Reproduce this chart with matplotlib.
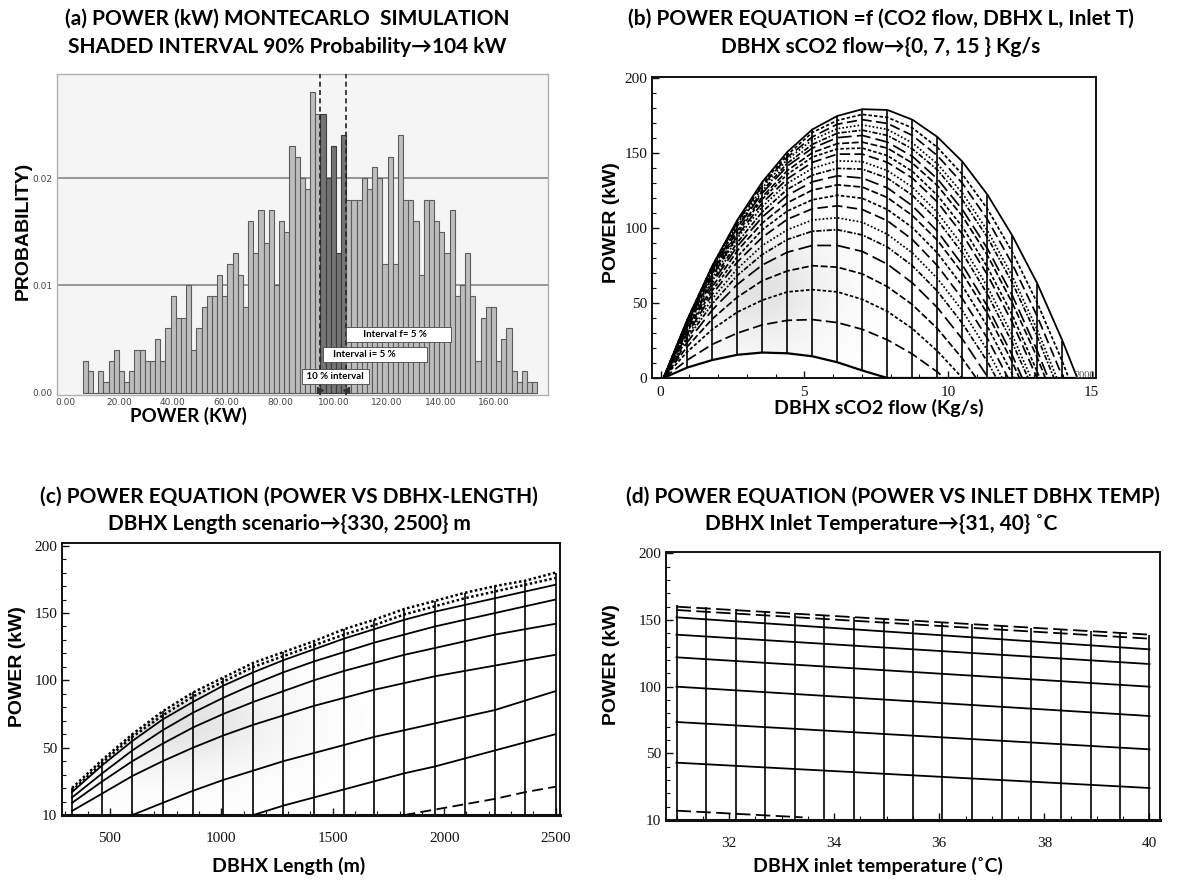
import numpy as np
import matplotlib
matplotlib.use("Agg")
import matplotlib.pyplot as plt
from matplotlib.ticker import MultipleLocator, FixedLocator, FixedFormatter

# ======================= DATA =======================
# (a) Monte Carlo histogram of power (kW)
hist_bin_start = 6.4
hist_bin_width = 1.93
prob_below = [0.003, 0.002, 0.000, 0.002, 0.001, 0.003, 0.004, 0.002, 0.001, 0.002,
              0.004, 0.004, 0.003, 0.003, 0.005, 0.003, 0.006, 0.009, 0.007, 0.007,
              0.010, 0.004, 0.006, 0.008, 0.009, 0.009, 0.011, 0.009, 0.012, 0.013,
              0.011, 0.008, 0.016, 0.013, 0.017, 0.014, 0.017, 0.010, 0.016, 0.015,
              0.023, 0.022, 0.020, 0.019, 0.028, 0.026]
prob_shaded = [0.026, 0.020, 0.023, 0.013, 0.024]
prob_above = [0.018, 0.018, 0.018, 0.020, 0.019, 0.021, 0.020, 0.012, 0.022, 0.012,
              0.024, 0.018, 0.018, 0.016, 0.011, 0.018, 0.018, 0.016, 0.015, 0.013,
              0.017, 0.009, 0.010, 0.013, 0.009, 0.003, 0.007, 0.008, 0.008, 0.003,
              0.005, 0.006, 0.002, 0.001, 0.002, 0.001, 0.001]
hist_xticks = [0, 20, 40, 60, 80, 100, 120, 140, 160]
hist_yticks = [0.00, 0.01, 0.02]

# (b) power vs sCO2 flow, one curve per DBHX length level (top = longest)
flow_grid = [0.1, 0.93, 1.8, 2.67, 3.54, 4.41, 5.28, 6.15, 7.02, 7.89, 8.76,
             9.63, 10.5, 11.37, 12.24, 13.11, 13.98, 14.5]
power_vs_flow = [
    [0, 39, 75, 105.5, 131, 151, 166, 175, 179.5, 179, 172.5, 161, 144.5, 122.5, 95, 63, 25, 0],
    [0, 39, 75, 105, 130, 149, 164, 172, 176, 174, 167, 154, 136, 113, 84, 50, 11, -15],
    [0, 38.7, 74, 104, 128.5, 147.5, 161, 169.5, 172.5, 170, 162, 148.5, 130, 106, 76, 41, 1, -26],
    [0, 38.5, 73.5, 103, 127, 146, 159, 166.5, 169, 166, 157, 143, 123.5, 98.5, 68, 32, -9, 0],
    [0, 38, 72.5, 101.5, 125, 143.5, 156, 163.5, 165.5, 162, 153, 139, 119, 94, 63.5, 27.5, -14, 0],
    [0, 37.5, 72, 100.5, 123.5, 141.5, 153.5, 160.5, 162, 157.5, 148, 133, 112.5, 86.5, 55, 18, -24, 0],
    [0, 37, 70.5, 98.5, 121, 138.5, 150.5, 156.5, 157.5, 153.5, 143.5, 128.5, 108, 82, 50, 13.5, -29, 0],
    [0, 36.5, 69.5, 97, 119.5, 136, 147.5, 153, 153.5, 148.5, 138, 122, 101, 74, 42, 4, -39, 0],
    [0, 36, 68, 95, 117, 133, 144, 149.5, 149.5, 144, 133.5, 117.5, 96, 69, 37, -0.5, 0, 0],
    [0, 35.5, 67, 93.5, 114.5, 130, 140, 145, 144.5, 138.5, 127.5, 110.5, 88.5, 61, 28.5, -9.5, 0, 0],
    [0, 34.5, 65, 90.5, 111, 126, 135.5, 140, 139.5, 133.5, 122, 105.5, 83.5, 56, 23.5, -14, 0, 0],
    [0, 33.5, 63.5, 88, 107.5, 122, 131, 135, 133.5, 127, 115, 98, 75.5, 48, 15, -23, 0, 0],
    [0, 32, 61, 85, 103.5, 117, 125.5, 129, 127.5, 120.5, 108.5, 92, 70, 43, 10.5, -26.5, 0, 0],
    [0, 31, 58.5, 81, 99, 111.5, 119, 122, 120, 112.5, 100.5, 83.5, 61.5, 34.5, 2.5, -34.5, 0, 0],
    [0, 29.5, 56, 77.5, 94, 106, 113, 115, 112.5, 105, 92.5, 75, 53, 26.5, -5.5, 0, 0, 0],
    [0, 28, 53, 73, 88.5, 99, 105.5, 107, 104, 96, 83.5, 66.5, 45, 18.5, -12.5, 0, 0, 0],
    [0, 26.5, 49.5, 68.5, 82.5, 92.5, 98, 99, 95.5, 87.5, 75, 58, 36.5, 11, -19.5, 0, 0, 0],
    [0, 24, 45.5, 62.5, 75.5, 84, 88.5, 88.5, 84.5, 76, 63.5, 47, 26, 1, -28.5, 0, 0, 0],
    [0, 21, 39.5, 54, 65, 71.5, 75, 74, 69.5, 61, 49, 33, 13, -10.5, 0, 0, 0, 0],
    [0, 17.5, 32.5, 44, 52, 57.5, 59, 57.5, 52.5, 44.5, 33, 18, 0, -21.5, 0, 0, 0, 0],
    [0, 12, 22.5, 30, 35.5, 38.5, 39, 37, 32.5, 25.5, 16, 4, -10, 0, 0, 0, 0, 0],
    [0, 7, 12, 15.5, 17, 16.5, 14.5, 10.5, 5, 0, 0, 0, 0, 0, 0, 0, 0, 0],
]

# (c) power vs DBHX length, one curve per visible flow level
length_grid = [330, 466, 601, 737, 873, 1008, 1144, 1279, 1415, 1551, 1686,
               1822, 1958, 2093, 2229, 2364, 2500]
nan = np.nan
power_vs_length = [
    [20, 41, 60, 77, 91, 102, 113, 121, 129, 138, 145, 153, 159, 165, 170, 174, 180],
    [18, 39, 58, 74, 88, 99, 110, 118, 126, 134, 141, 149, 155, 161, 166, 171, 176],
    [17, 37, 55, 71, 84, 96, 106, 115, 123, 131, 138, 145, 151, 156, 161, 166, 171],
    [13, 31, 48, 63, 76, 87, 97, 106, 114, 121, 128, 134, 140, 145, 150, 155, 160],
    [9, 25, 40, 53, 65, 75, 84, 92, 100, 107, 113, 119, 124, 129, 134, 138, 142],
    [3, 16, 29, 40, 50, 59, 67, 74, 81, 87, 93, 98, 103, 107, 111, 115, 119],
    [nan, nan, 0, 9, 18, 26, 33, 40, 46, 52, 58, 63, 68, 73, 78, 85, 92],
    [nan, nan, nan, nan, nan, nan, 0, 7, 13, 19, 25, 31, 36, 42, 48, 54, 60],
    [nan, nan, nan, nan, nan, nan, nan, nan, nan, nan, nan, 0, 4, 8, 12, 17, 21],
]
length_styles = ["dotted", "dotted", "solid", "solid", "solid", "solid", "solid", "solid", "dashed"]

# (d) power vs DBHX inlet temperature, one line per flow level
temp_ends = [31, 40]
power_vs_temp = [
    [160, 139], [157.5, 136], [152, 128], [139, 117], [122, 100],
    [100, 78], [73.5, 53], [43, 24],
]
temp_low_line = [31, 33.4]
power_low_line = [7, 2]
temp_mesh = [31.0, 31.56, 32.13, 32.69, 33.25, 33.81, 34.38, 34.94, 35.5, 36.06,
             36.63, 37.19, 37.75, 38.31, 38.88, 39.44, 40.0]
temp_mesh_top = [161, 159.5, 158, 156.5, 155, 153.5, 152, 151, 149.5, 148,
                 147, 145.5, 144, 143, 141.5, 140, 139]

power_ticks = [0, 50, 100, 150, 200]

# ======================= FIGURE =======================
W, H = 1182, 882
fig = plt.figure(figsize=(W / 100, H / 100), dpi=100)
fig.patch.set_facecolor("white")

TF = ["Lato", "DejaVu Sans"]          # titles / x labels
YF = ["Liberation Sans", "DejaVu Sans"]  # y labels
NF = ["Liberation Serif", "DejaVu Serif"]  # tick numbers


def ax_px(x0, y0, x1, y1):
    return fig.add_axes([x0 / W, 1 - y1 / H, (x1 - x0) / W, (y1 - y0) / H])


def ftext(x, y, s, **kw):
    kw.setdefault("ha", "center")
    kw.setdefault("va", "center")
    fig.text(x / W, 1 - y / H, s, **kw)


def title2(xc1, xc2, y1, y2, l1, l2):
    ftext(xc1, y1, l1, family=TF, fontweight="bold", fontsize=15)
    ftext(xc2, y2, l2, family=TF, fontweight="bold", fontsize=15)


def style_math_axes(ax):
    for s in ax.spines.values():
        s.set_linewidth(1.4)
        s.set_color("#111111")
    ax.tick_params(which="both", direction="in", colors="#111111", labelsize=11,
                   top=False, right=False)
    ax.tick_params(which="major", length=5, width=1.0)
    ax.tick_params(which="minor", length=3, width=0.8)
    for lbl in ax.get_xticklabels() + ax.get_yticklabels():
        lbl.set_family(NF)


# ---------------- (a) ----------------
axa = ax_px(57, 74, 548, 395)
axa.set_facecolor("#f5f5f5")
n_below, n_sh, n_ab = len(prob_below), len(prob_shaded), len(prob_above)
edges = hist_bin_start + hist_bin_width * np.arange(n_below + n_sh + n_ab)
for yv in hist_yticks[1:]:
    axa.axhline(yv, color="#8e8e8e", lw=1.3, zorder=1)
axa.bar(edges[:n_below], prob_below, width=hist_bin_width, align="edge",
        color="#bdbdbd", edgecolor="#5c5c5c", linewidth=0.8, zorder=2)
axa.bar(edges[n_below:n_below + n_sh], prob_shaded, width=hist_bin_width, align="edge",
        color="#747474", edgecolor="#3c3c3c", linewidth=0.8, zorder=2)
axa.bar(edges[n_below + n_sh:], prob_above, width=hist_bin_width, align="edge",
        color="#bdbdbd", edgecolor="#5c5c5c", linewidth=0.8, zorder=2)
x_lo = edges[n_below]
x_hi = edges[n_below + n_sh]
for xv in (x_lo, x_hi):
    axa.axvline(xv, color="#222222", lw=1.2, ls=(0, (3, 2)), zorder=3)
axa.plot([x_lo], [0.0003], marker=">", color="#333333", ms=5, zorder=4, clip_on=False)
axa.plot([x_hi], [0.0003], marker="<", color="#333333", ms=5, zorder=4, clip_on=False)
axa.set_xlim(-3.25, 180.2)
axa.set_ylim(-0.0002, 0.0297)
axa.set_xticks(hist_xticks)
axa.set_xticklabels([f"{v:.2f}" for v in hist_xticks])
axa.set_yticks(hist_yticks)
axa.set_yticklabels([f"{v:.2f}" for v in hist_yticks])
axa.tick_params(length=0, labelsize=6.5, colors="#444444")
axa.tick_params(axis="x", pad=2.5)
axa.tick_params(axis="y", pad=3)
for s in axa.spines.values():
    s.set_color("#b0b0b0")
    s.set_linewidth(1.0)
bbox_kw = dict(facecolor="white", edgecolor="#444444", linewidth=0.6, boxstyle="square,pad=0.3")
axa.text(105.8, 0.0054, "      Interval f= 5 %         ", fontsize=7, fontweight="bold",
         family=TF, ha="left", va="center", bbox=bbox_kw, zorder=6)
axa.text(97.2, 0.0036, "   Interval i= 5 %            ", fontsize=7, fontweight="bold",
         family=TF, ha="left", va="center", bbox=bbox_kw, zorder=6)
axa.text(89.2, 0.0015, " 10 % interval ", fontsize=7, fontweight="bold",
         family=TF, ha="left", va="center", bbox=bbox_kw, zorder=6)
title2(287, 287, 19, 47, "(a) POWER (kW) MONTECARLO  SIMULATION",
       "SHADED INTERVAL 90% Probability\u2192104 kW")
ftext(188, 416, "POWER (KW)", family=TF, fontweight="bold", fontsize=13.5)
ftext(23, 231, "PROBABILITY)", family=YF, fontweight="bold", fontsize=14, rotation=90)

# ---------------- (b) ----------------
axb = ax_px(652, 77, 1096, 378)
pv = np.array(power_vs_flow, dtype=float)
gx = np.linspace(0, 15, 300)
gy = np.linspace(0, 200, 200)
GX, GY = np.meshgrid(gx, gy)
shade = np.exp(-((GX - 3.5) / 2.6) ** 2) * np.exp(-((GY - 60) / 45) ** 2)
im = axb.imshow(shade, extent=[0, 15, 0, 200], origin="lower", cmap="Greys",
                vmin=0, vmax=5, aspect="auto", zorder=0)
poly = axb.fill_between(flow_grid, pv[0], np.clip(pv[-1], 0, None), color="none")
im.set_clip_path(poly.get_paths()[0], transform=axb.transData)
b_styles = [(0, (4, 1.5)), (0, (2, 1.2)), (0, (6, 2.5)), (0, (1, 1.2)),
            (0, (3, 1, 1, 1)), (0, (8, 3))]
for i, row in enumerate(pv):
    if i == 0:
        ls, lw = "solid", 1.3
    elif i == len(pv) - 1:
        ls, lw = "solid", 1.6
    else:
        ls, lw = b_styles[i % len(b_styles)], 1.25
    axb.plot(flow_grid, row, color="black", lw=lw, ls=ls, zorder=3)
for j in range(1, len(flow_grid) - 1):
    col = pv[:, j]
    axb.vlines(flow_grid[j], max(col.min(), 0), col.max(), color="black", lw=1.2, zorder=3)
axb.text(14.75, 2.0, "2000", fontsize=7.5, color="#555555", family=NF, ha="center", va="center")
axb.set_xlim(-0.3, 15.15)
axb.set_ylim(0, 201)
axb.set_xticks([0, 5, 10, 15])
axb.xaxis.set_minor_locator(MultipleLocator(1))
axb.set_yticks(power_ticks)
axb.yaxis.set_minor_locator(MultipleLocator(10))
style_math_axes(axb)
axb.tick_params(axis="x", pad=6)
title2(881, 881, 19, 47, "(b) POWER EQUATION =f (CO2 flow, DBHX L, Inlet T)",
       "DBHX sCO2 flow\u2192{0, 7, 15 } Kg/s")
ftext(879, 408, "DBHX sCO2 flow (Kg/s)", family=TF, fontweight="bold", fontsize=14)
ftext(612, 223, "POWER (kW)", family=YF, fontweight="bold", fontsize=14, rotation=90)

# ---------------- (c) ----------------
axc = ax_px(62, 543, 560, 815)
pl = np.array(power_vs_length, dtype=float)
gx = np.linspace(300, 2520, 300)
gy = np.linspace(0, 200, 200)
GX, GY = np.meshgrid(gx, gy)
shade = np.exp(-((GX - 800) / 500) ** 2) * np.exp(-((GY - 70) / 40) ** 2)
im = axc.imshow(shade, extent=[300, 2520, 0, 200], origin="lower", cmap="Greys",
                vmin=0, vmax=5, aspect="auto", zorder=0)
poly = axc.fill_between(length_grid, pl[0], 0, color="none")
im.set_clip_path(poly.get_paths()[0], transform=axc.transData)
for row, st in zip(pl, length_styles):
    if st == "dotted":
        axc.plot(length_grid, row, color="black", lw=1.8, ls=(0, (1, 1)), zorder=3)
    elif st == "dashed":
        axc.plot(length_grid, row, color="black", lw=1.3, ls=(0, (6, 3)), zorder=3)
    else:
        axc.plot(length_grid, row, color="black", lw=1.3, zorder=3)
axc.vlines(length_grid, 0, pl[0], color="black", lw=1.2, zorder=3)
axc.set_xlim(285, 2520)
axc.set_ylim(0, 202)
axc.set_xticks([500, 1000, 1500, 2000, 2500])
axc.xaxis.set_minor_locator(MultipleLocator(100))
axc.yaxis.set_major_locator(FixedLocator(power_ticks))
axc.yaxis.set_major_formatter(FixedFormatter(["10", "50", "100", "150", "200"]))
axc.yaxis.set_minor_locator(MultipleLocator(10))
style_math_axes(axc)
axc.spines["bottom"].set_linewidth(2.2)
axc.tick_params(axis="x", pad=12)
title2(289, 289, 497, 524, "(c) POWER EQUATION (POWER VS DBHX-LENGTH)",
       "DBHX Length scenario\u2192{330, 2500} m")
ftext(289, 866, "DBHX Length (m)", family=TF, fontweight="bold", fontsize=14)
ftext(18, 667, "POWER (kW)", family=YF, fontweight="bold", fontsize=14, rotation=90)

# ---------------- (d) ----------------
axd = ax_px(666, 552, 1160, 820)
d_styles = [(0, (8, 3)), (0, (8, 3))] + ["solid"] * (len(power_vs_temp) - 2)
for row, st in zip(power_vs_temp, d_styles):
    axd.plot(temp_ends, row, color="black", lw=1.3, ls=st, zorder=3)
axd.plot(temp_low_line, power_low_line, color="black", lw=1.3, ls=(0, (8, 3)), zorder=3)
axd.vlines(temp_mesh, 0, temp_mesh_top, color="black", lw=1.2, zorder=3)
axd.set_xlim(30.8, 40.2)
axd.set_ylim(0, 201)
axd.set_xticks([32, 34, 36, 38, 40])
axd.xaxis.set_minor_locator(MultipleLocator(0.5))
axd.yaxis.set_major_locator(FixedLocator(power_ticks))
axd.yaxis.set_major_formatter(FixedFormatter(["10", "50", "100", "150", "200"]))
axd.yaxis.set_minor_locator(MultipleLocator(10))
style_math_axes(axd)
axd.spines["bottom"].set_linewidth(2.2)
axd.tick_params(axis="x", pad=12)
title2(893, 881, 497, 524, "(d) POWER EQUATION (POWER VS INLET DBHX TEMP)",
       "DBHX Inlet Temperature\u2192{31, 40} \u02daC")
ftext(878, 866, "DBHX inlet temperature (\u02daC)", family=TF, fontweight="bold", fontsize=14)
ftext(612, 665, "POWER (kW)", family=YF, fontweight="bold", fontsize=14, rotation=90)

fig.savefig("out.png", dpi=100, facecolor="white")
